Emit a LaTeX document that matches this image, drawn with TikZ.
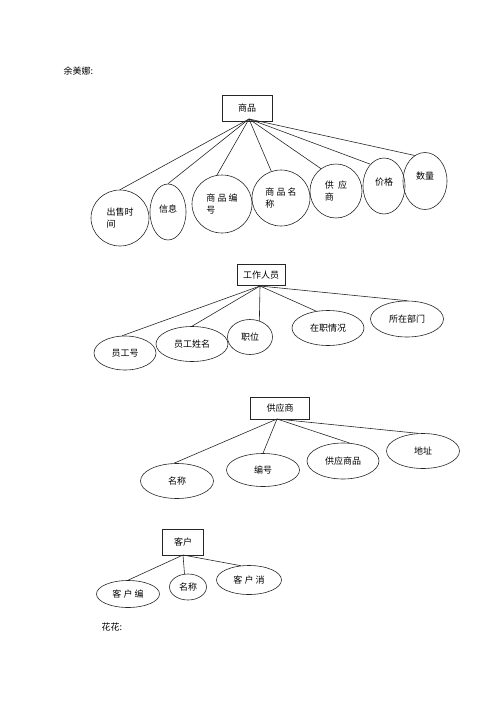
\documentclass[tikz,border=0pt]{standalone}
\usepackage{fontspec}
\setmainfont{Noto Sans CJK SC}
\usetikzlibrary{shapes.geometric}
\begin{document}
\begin{tikzpicture}[x=1pt,y=-1pt,
  ent/.style={draw=black!85,line width=0.6pt,rectangle,inner sep=0pt,font=\fontsize{9}{11}\selectfont},
  attr/.style={draw=black!85,line width=0.6pt,ellipse,inner sep=0pt,align=center,font=\fontsize{9}{12}\selectfont},
  lnk/.style={draw=black!85,line width=0.6pt}]
\useasboundingbox (0,0) rectangle (500,707);
\node[anchor=west,font=\fontsize{9}{11}\selectfont] (t1) at (60,71) {余美娜:};
\node[anchor=west,font=\fontsize{9}{11}\selectfont] (t2) at (98,627) {花花:};

% group 1
\node[ent,minimum width=50,minimum height=26] (sp) at (247,108) {商品};
\node[attr,minimum width=58,minimum height=56,align=left] (a1) at (120,218) {出售时\\间};
\node[attr,minimum width=36,minimum height=56] (a2) at (168,212) {\raisebox{6pt}{信息}};
\node[attr,minimum width=60,minimum height=58,align=left] (a3) at (222,204) {商 品 编\\号};
\node[attr,minimum width=58,minimum height=56,align=left] (a4) at (281,198) {商 品 名\\称};
\node[attr,minimum width=52,minimum height=54,align=left] (a5) at (336,191) {供\ \ 应\\商};
\node[attr,minimum width=42,minimum height=56] (a6) at (384,186) {\raisebox{8pt}{价格}};
\node[attr,minimum width=44,minimum height=57] (a7) at (425,181) {\raisebox{10pt}{数量}};
\coordinate (p1) at (249,119);
\draw[lnk] (p1) -- (a1.north);
\draw[lnk] (p1) -- (a2.north);
\draw[lnk] (p1) -- (a3.100);
\draw[lnk] (p1) -- (a4.110);
\draw[lnk] (p1) -- (a5.124);
\draw[lnk] (p1) -- (a6.122);
\draw[lnk] (p1) -- (a7.112);

% group 2
\node[ent,minimum width=48,minimum height=21] (gz) at (261,275) {工作人员};
\node[attr,minimum width=62,minimum height=34] (b1) at (125,353) {员工号};
\node[attr,minimum width=72,minimum height=35] (b2) at (192,344) {员工姓名};
\node[attr,minimum width=45,minimum height=35] (b3) at (250,337) {职位};
\node[attr,minimum width=72,minimum height=35] (b4) at (328,328) {在职情况};
\node[attr,minimum width=73,minimum height=36] (b5) at (407,319) {所在部门};
\coordinate (p2) at (260,286);
\draw[lnk] (p2) -- (b1.100);
\draw[lnk] (p2) -- (b2.north);
\draw[lnk] (p2) -- (b3.60);
\draw[lnk] (p2) -- (b4.125);
\draw[lnk] (p2) -- (b5.north);

% group 3
\node[ent,minimum width=59,minimum height=22] (gy) at (280,408) {供应商};
\node[attr,minimum width=73,minimum height=35] (c1) at (177,481) {名称};
\node[attr,minimum width=73,minimum height=33] (c2) at (263,470) {编号};
\node[attr,minimum width=72,minimum height=36] (c3) at (343,461) {供应商品};
\node[attr,minimum width=73,minimum height=35] (c4) at (423,451) {地址};
\coordinate (p3) at (277,419);
\draw[lnk] (p3) -- (c1.100);
\draw[lnk] (p3) -- (c2.north);
\draw[lnk] (p3) -- (c3.70);
\draw[lnk] (p3) -- (c4.105);

% group 4
\node[ent,minimum width=41,minimum height=26] (kh) at (183,542) {客户};
\node[attr,minimum width=63,minimum height=27] (d1) at (128,594) {客 户 编};
\node[attr,minimum width=37,minimum height=26] (d2) at (188,587) {名称};
\node[attr,minimum width=65,minimum height=29] (d3) at (249,580) {客 户 消};
\coordinate (p4) at (183,555);
\draw[lnk] (p4) -- (d1.north);
\draw[lnk] (p4) -- (d2.105);
\draw[lnk] (p4) -- (d3.120);
\end{tikzpicture}
\end{document}
